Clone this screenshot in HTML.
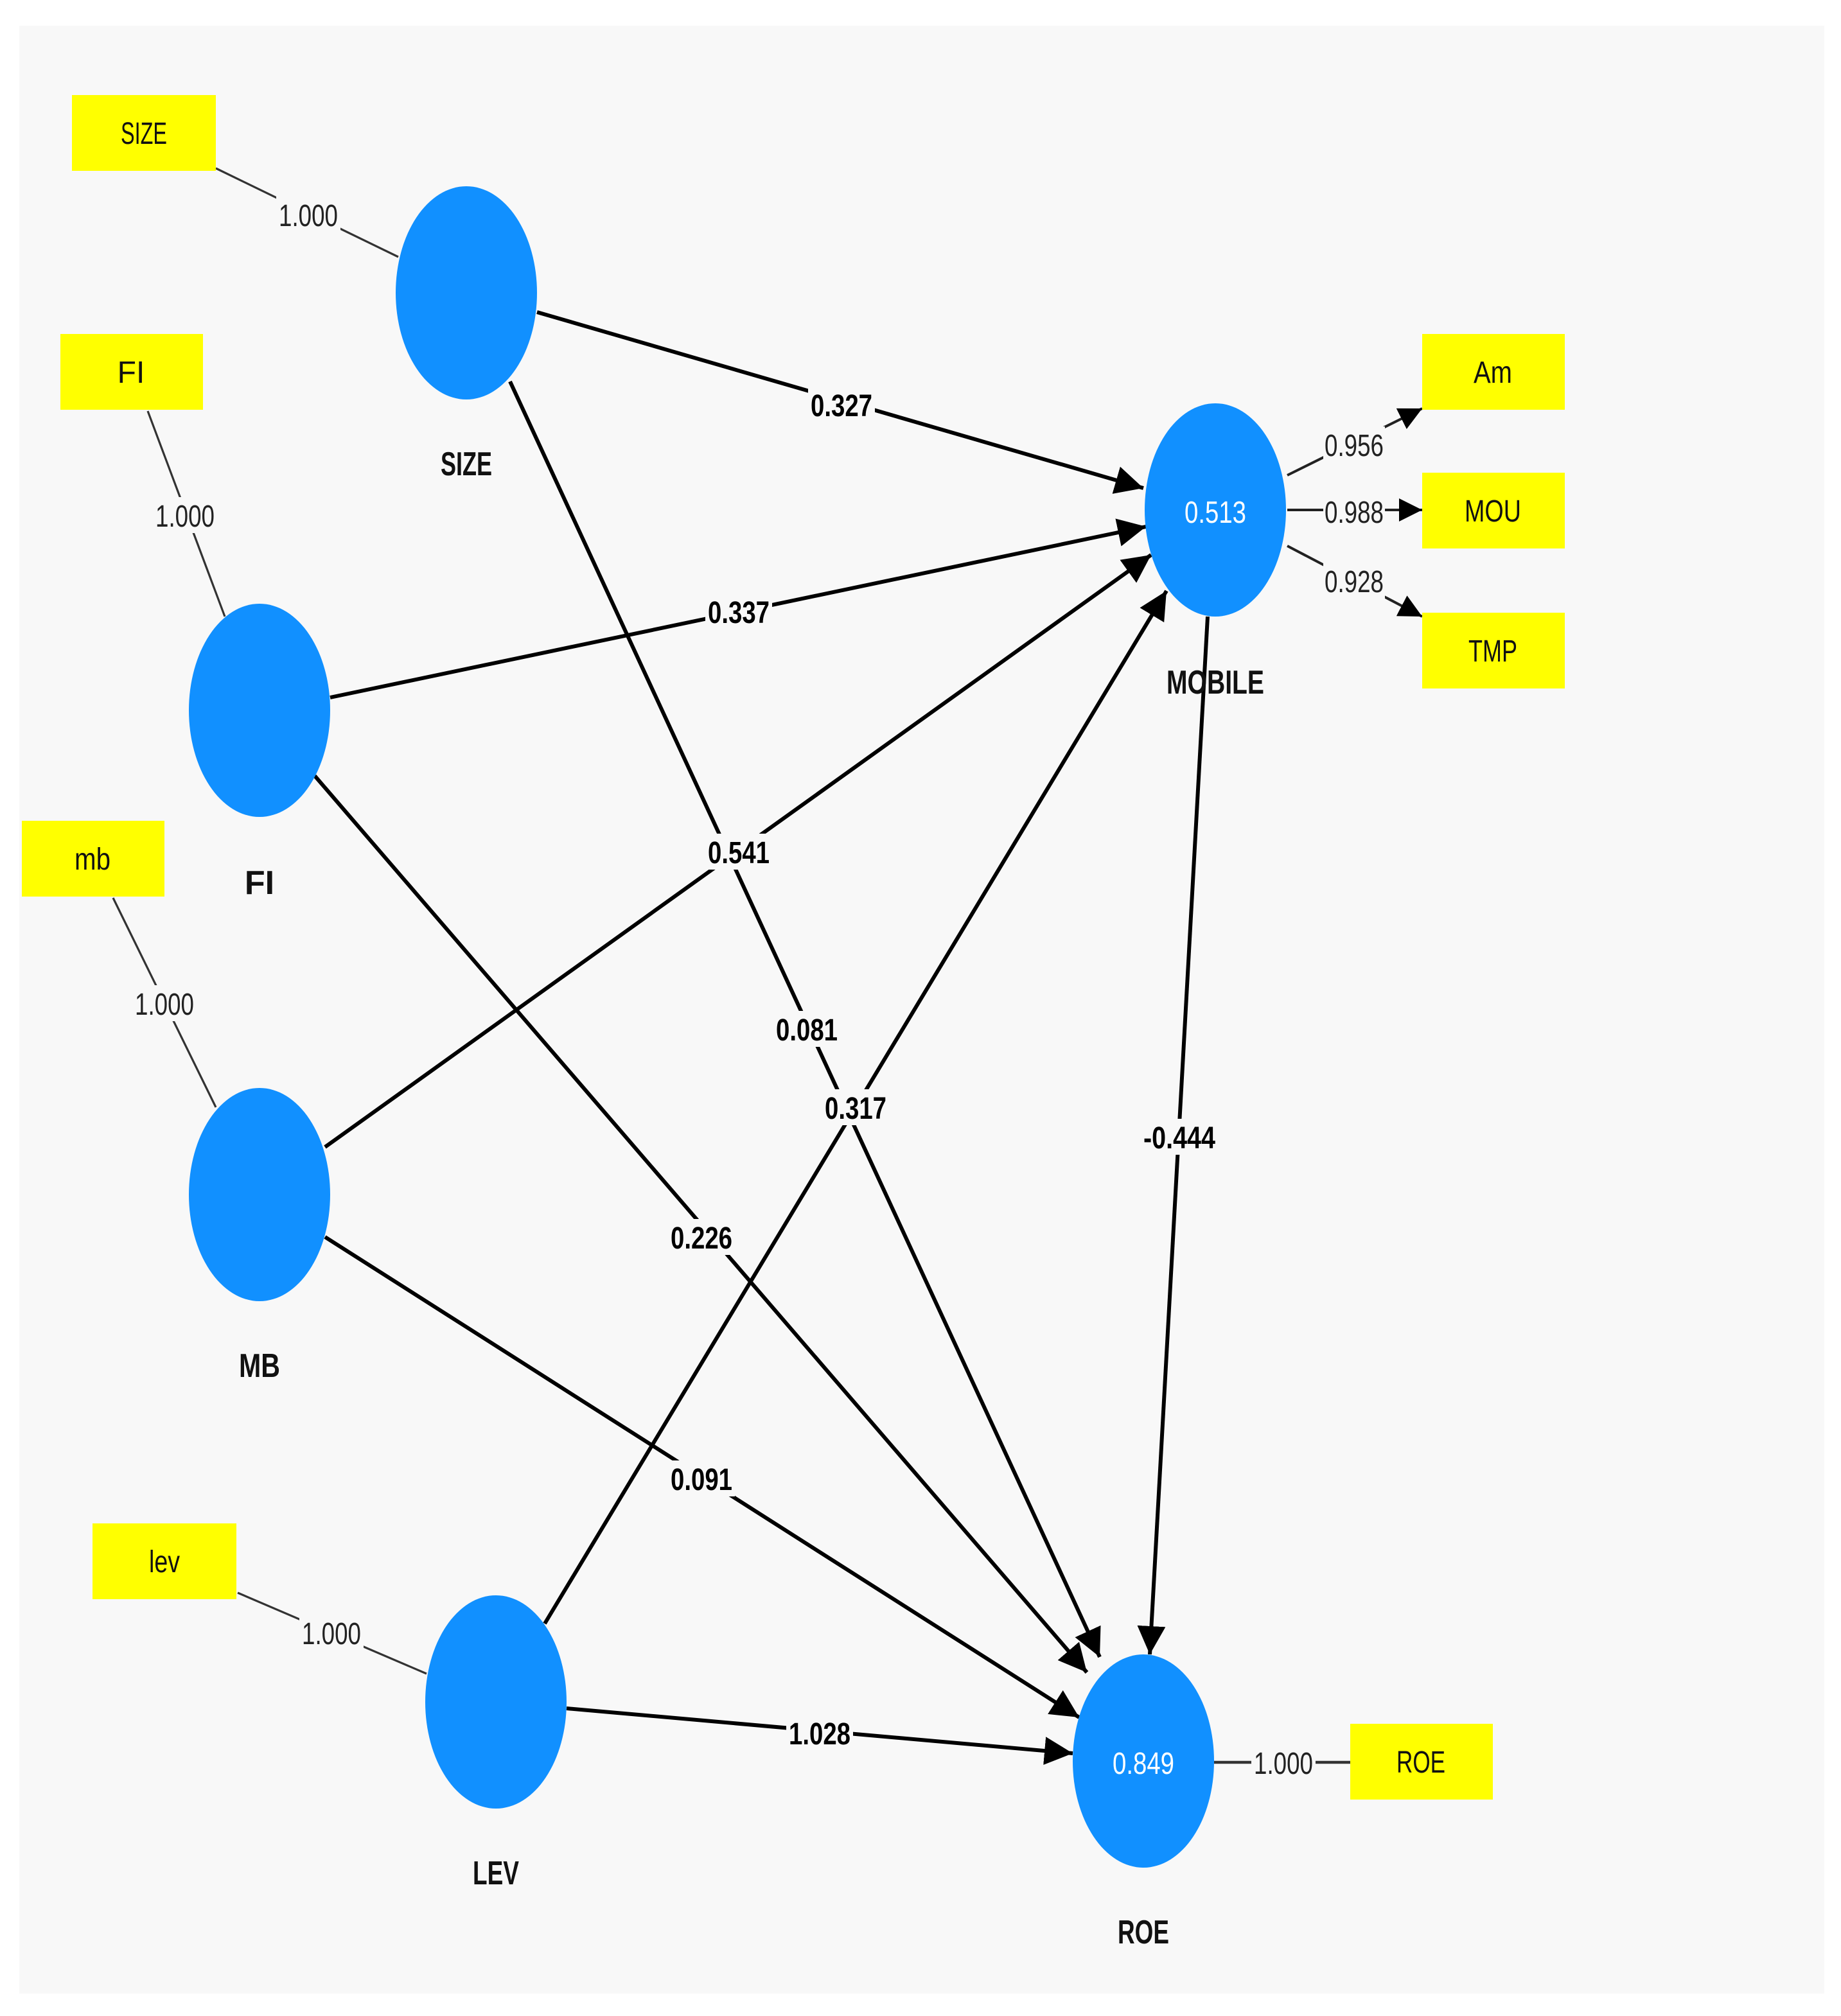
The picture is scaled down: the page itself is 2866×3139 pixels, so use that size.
<!DOCTYPE html>
<html><head><meta charset="utf-8"><style>
html,body{margin:0;padding:0;background:#fff;}
svg{display:block;}
text{font-family:"Liberation Sans",sans-serif;}
</style></head><body>
<svg width="2866" height="3139" viewBox="0 0 1433 1569.5" xmlns="http://www.w3.org/2000/svg">
<defs>
<marker id="a" markerWidth="8" markerHeight="8" refX="7" refY="4" orient="auto" markerUnits="userSpaceOnUse" viewBox="0 0 8 8">
</marker>
<marker id="ar" viewBox="0 0 10 10" refX="10" refY="5" markerWidth="22" markerHeight="22" markerUnits="userSpaceOnUse" orient="auto"><path d="M0,0 L10,5 L0,10 z" fill="#000"/></marker>
<marker id="as" viewBox="0 0 10 10" refX="10" refY="5" markerWidth="18" markerHeight="18" markerUnits="userSpaceOnUse" orient="auto"><path d="M0,0 L10,5 L0,10 z" fill="#000"/></marker>
</defs>
<rect x="0" y="0" width="1433" height="1570" fill="#fff"/>
<rect x="15" y="20" width="1405" height="1532" fill="#f8f8f8"/>

<!-- indicator lines -->
<g stroke="#333" stroke-width="1.6">
<line x1="168" y1="131" x2="310" y2="200"/>
<line x1="115" y1="320" x2="175" y2="480"/>
<line x1="88" y1="699" x2="168" y2="862"/>
<line x1="185" y1="1240" x2="332" y2="1303"/>
<line x1="945" y1="1372" x2="1051" y2="1372" stroke-width="2.2"/>
</g>
<g stroke="#222" stroke-width="2">
<line x1="1002" y1="370" x2="1107" y2="318" marker-end="url(#as)"/>
<line x1="1002" y1="397" x2="1107" y2="397" marker-end="url(#as)"/>
<line x1="1002" y1="425" x2="1107" y2="480" marker-end="url(#as)"/>
</g>

<!-- structural paths -->
<g stroke="#000" stroke-width="3">
<line x1="418" y1="243" x2="890" y2="380" marker-end="url(#ar)"/>
<line x1="257" y1="543" x2="892" y2="410" marker-end="url(#ar)"/>
<line x1="253" y1="893" x2="896" y2="432" marker-end="url(#ar)"/>
<line x1="424" y1="1264" x2="908" y2="460" marker-end="url(#ar)"/>
<line x1="397" y1="297" x2="856" y2="1290" marker-end="url(#ar)"/>
<line x1="245" y1="604" x2="846" y2="1302" marker-end="url(#ar)"/>
<line x1="253" y1="963" x2="840" y2="1337" marker-end="url(#ar)"/>
<line x1="441" y1="1330" x2="835" y2="1365" marker-end="url(#ar)"/>
<line x1="940" y1="480" x2="895" y2="1288" marker-end="url(#ar)"/>
</g>

<!-- yellow boxes -->
<g fill="#ffff00">
<rect x="56" y="74" width="112" height="59"/>
<rect x="47" y="260" width="111" height="59"/>
<rect x="17" y="639" width="111" height="59"/>
<rect x="72" y="1186" width="112" height="59"/>
<rect x="1107" y="260" width="111" height="59"/>
<rect x="1107" y="368" width="111" height="59"/>
<rect x="1107" y="477" width="111" height="59"/>
<rect x="1051" y="1342" width="111" height="59"/>
</g>
<g font-size="24" fill="#111" text-anchor="middle">
<text x="112" y="112" textLength="36" lengthAdjust="spacingAndGlyphs">SIZE</text>
<text x="102" y="298">FI</text>
<text x="72" y="677" textLength="28" lengthAdjust="spacingAndGlyphs">mb</text>
<text x="128" y="1224" textLength="24" lengthAdjust="spacingAndGlyphs">lev</text>
<text x="1162" y="298" textLength="30" lengthAdjust="spacingAndGlyphs">Am</text>
<text x="1162" y="406" textLength="44" lengthAdjust="spacingAndGlyphs">MOU</text>
<text x="1162" y="515" textLength="38" lengthAdjust="spacingAndGlyphs">TMP</text>
<text x="1106" y="1380" textLength="38" lengthAdjust="spacingAndGlyphs">ROE</text>
</g>

<!-- circles -->
<g fill="#1190ff">
<ellipse cx="363" cy="228" rx="55" ry="83"/>
<ellipse cx="202" cy="553" rx="55" ry="83"/>
<ellipse cx="202" cy="930" rx="55" ry="83"/>
<ellipse cx="386" cy="1325" rx="55" ry="83"/>
<ellipse cx="946" cy="397" rx="55" ry="83"/>
<ellipse cx="890" cy="1371" rx="55" ry="83"/>
</g>
<g font-size="24" fill="#fff" text-anchor="middle">
<text x="946" y="407" textLength="48" lengthAdjust="spacingAndGlyphs">0.513</text>
<text x="890" y="1381" textLength="48" lengthAdjust="spacingAndGlyphs">0.849</text>
</g>
<g font-size="26" font-weight="bold" fill="#111" text-anchor="middle">
<text x="363" y="370" textLength="40" lengthAdjust="spacingAndGlyphs">SIZE</text>
<text x="202" y="696">FI</text>
<text x="202" y="1072" textLength="32" lengthAdjust="spacingAndGlyphs">MB</text>
<text x="386" y="1467" textLength="36" lengthAdjust="spacingAndGlyphs">LEV</text>
<text x="946" y="540" textLength="76" lengthAdjust="spacingAndGlyphs">MOBILE</text>
<text x="890" y="1513" textLength="40" lengthAdjust="spacingAndGlyphs">ROE</text>
</g>

<!-- edge labels -->
<g font-size="24" text-anchor="middle">
<g fill="#f8f8f8">
<rect x="215" y="153" width="50" height="28"/>
<rect x="119" y="387" width="50" height="28"/>
<rect x="103" y="767" width="50" height="28"/>
<rect x="233" y="1257" width="50" height="28"/>
<rect x="974" y="1358" width="50" height="28"/>
<rect x="1030" y="332" width="48" height="28"/>
<rect x="1030" y="384" width="48" height="28"/>
<rect x="1030" y="438" width="48" height="28"/>
<rect x="629" y="301" width="52" height="28"/>
<rect x="549" y="462" width="52" height="28"/>
<rect x="549" y="649" width="52" height="28"/>
<rect x="640" y="848" width="52" height="28"/>
<rect x="602" y="787" width="52" height="28"/>
<rect x="520" y="949" width="52" height="28"/>
<rect x="520" y="1137" width="52" height="28"/>
<rect x="612" y="1335" width="52" height="28"/>
<rect x="888" y="871" width="60" height="28"/>
</g>
<g fill="#222">
<text x="240" y="176" textLength="46" lengthAdjust="spacingAndGlyphs">1.000</text>
<text x="144" y="410" textLength="46" lengthAdjust="spacingAndGlyphs">1.000</text>
<text x="128" y="790" textLength="46" lengthAdjust="spacingAndGlyphs">1.000</text>
<text x="258" y="1280" textLength="46" lengthAdjust="spacingAndGlyphs">1.000</text>
<text x="999" y="1381" textLength="46" lengthAdjust="spacingAndGlyphs">1.000</text>
<text x="1054" y="355" textLength="46" lengthAdjust="spacingAndGlyphs">0.956</text>
<text x="1054" y="407" textLength="46" lengthAdjust="spacingAndGlyphs">0.988</text>
<text x="1054" y="461" textLength="46" lengthAdjust="spacingAndGlyphs">0.928</text>
</g>
<g fill="#000" font-weight="bold">
<text x="655" y="324" textLength="48" lengthAdjust="spacingAndGlyphs">0.327</text>
<text x="575" y="485" textLength="48" lengthAdjust="spacingAndGlyphs">0.337</text>
<text x="575" y="672" textLength="48" lengthAdjust="spacingAndGlyphs">0.541</text>
<text x="666" y="871" textLength="48" lengthAdjust="spacingAndGlyphs">0.317</text>
<text x="628" y="810" textLength="48" lengthAdjust="spacingAndGlyphs">0.081</text>
<text x="546" y="972" textLength="48" lengthAdjust="spacingAndGlyphs">0.226</text>
<text x="546" y="1160" textLength="48" lengthAdjust="spacingAndGlyphs">0.091</text>
<text x="638" y="1358" textLength="48" lengthAdjust="spacingAndGlyphs">1.028</text>
<text x="918" y="894" textLength="56" lengthAdjust="spacingAndGlyphs">-0.444</text>
</g>
</g>
</svg>
</body></html>
